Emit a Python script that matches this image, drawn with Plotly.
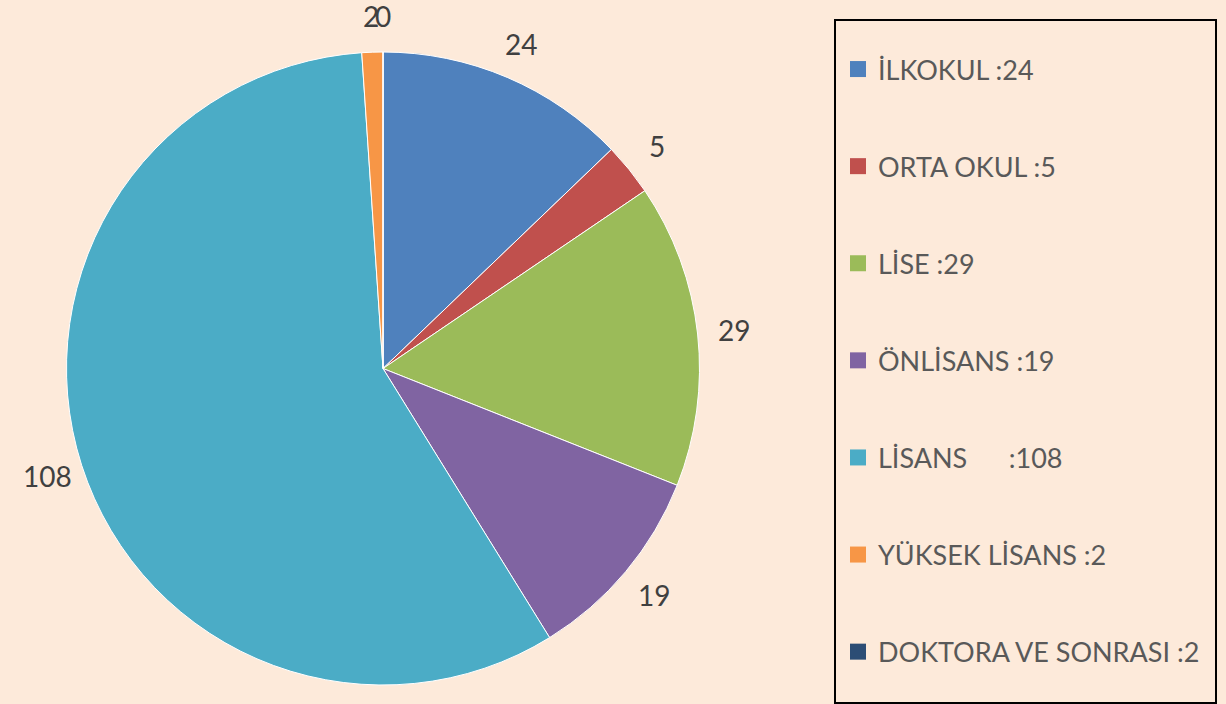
import numpy as np
import plotly.graph_objects as go

categories = ["İLKOKUL", "ORTA OKUL", "LİSE", "ÖNLİSANS", "LİSANS", "YÜKSEK LİSANS", "DOKTORA VE SONRASI"]
values = [24, 5, 29, 19, 108, 2, 0]
legend_labels = ["İLKOKUL :24", "ORTA OKUL :5", "LİSE :29", "ÖNLİSANS :19",
                 "LİSANS      :108", "YÜKSEK LİSANS :2", "DOKTORA VE SONRASI :2"]
colors = ["#4F81BD", "#C0504D", "#9BBB59", "#8064A2", "#4BACC6", "#F79646", "#2C4D75"]

BG = "#FDEADA"
W, H = 1226, 704
FONT = "Lato"
LEGEND_FONT = "Lato"

# pie geometry (pixels)
CX, CY, R = 383, 368.5, 316.5
LABEL_DIST = 1.115

fig = go.Figure()
fig.add_trace(go.Pie(
    labels=categories, values=values, sort=False, direction="clockwise", rotation=0,
    marker=dict(colors=colors, line=dict(color="#FFFFFF", width=1)),
    textinfo="none", textposition="none",
    showlegend=False, hoverinfo="label+value",
    domain=dict(x=[(CX - R) / W, (CX + R) / W], y=[(H - CY - R) / H, (H - CY + R) / H]),
))

# data labels at each slice's mid-angle (clockwise from 12 o'clock)
vals = np.array(values, dtype=float)
cum = np.cumsum(vals) - vals / 2
angles = cum / vals.sum() * 2 * np.pi
annotations = []
for v, a in zip(values, angles):
    px = CX + LABEL_DIST * R * np.sin(a)
    py = CY - LABEL_DIST * R * np.cos(a)
    annotations.append(dict(
        x=px / W, y=1 - py / H, xref="paper", yref="paper",
        text=str(v), showarrow=False, xanchor="center", yanchor="middle",
        font=dict(family=FONT, size=28, color="#404040"),
    ))

for i, (lab, col) in enumerate(zip(legend_labels, colors)):
    fig.add_trace(go.Scatter(
        x=[None], y=[None], mode="markers", name=lab,
        marker=dict(symbol="square", size=18, color=col),
        legendgroup=f"g{i}", showlegend=True,
    ))

fig.update_layout(
    width=W, height=H,
    margin=dict(l=0, r=0, t=0, b=0),
    paper_bgcolor=BG, plot_bgcolor=BG,
    xaxis=dict(visible=False), yaxis=dict(visible=False),
    legend=dict(
        x=838 / W, y=1 - 45 / H, xanchor="left", yanchor="top",
        bgcolor="rgba(0,0,0,0)", borderwidth=0,
        font=dict(family=LEGEND_FONT, size=27, color="#595959"),
        tracegroupgap=59, traceorder="grouped",
    ),
    annotations=annotations,
    shapes=[dict(type="rect", xref="paper", yref="paper",
                 x0=835 / W, x1=1216 / W, y0=1 / H, y1=1 - 20 / H,
                 line=dict(color="#000000", width=2), fillcolor="rgba(0,0,0,0)")],
)

fig.write_html("out.html")
